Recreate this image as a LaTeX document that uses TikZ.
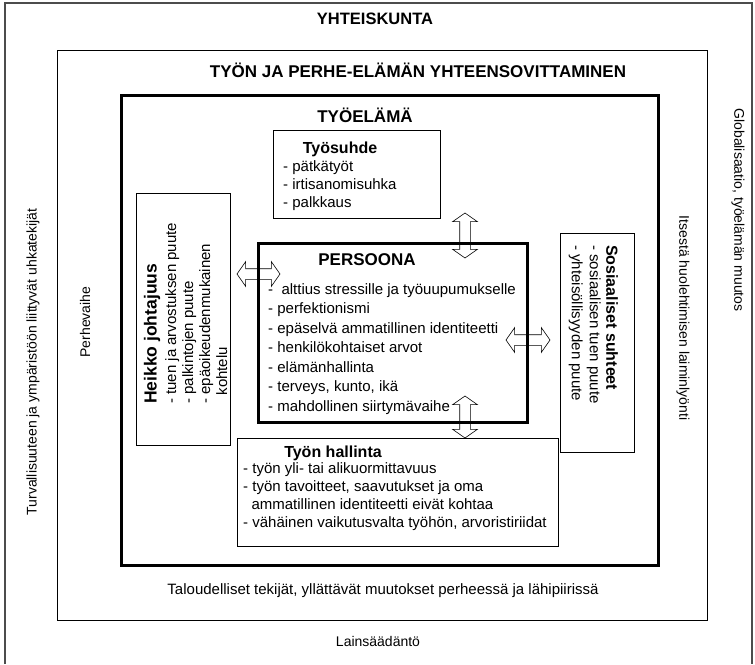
\documentclass[tikz,border=0pt]{standalone}
\usepackage{fontspec}
\setmainfont{Liberation Sans}
\usetikzlibrary{shapes.arrows}

\begin{document}
\begin{tikzpicture}[x=1pt,y=-1pt,
  laatikko/.style={draw,line width=0.8pt,inner sep=0pt},
  paksulaatikko/.style={draw,line width=3pt,inner sep=0pt},
  iso/.style={font=\fontsize{17}{20}\selectfont\bfseries},
  nimi/.style={font=\fontsize{16}{19}\selectfont\bfseries},
  lista/.style={font=\fontsize{15}{18}\selectfont,align=left,inner sep=0pt,anchor=north west},
  pieni/.style={font=\fontsize{14}{17}\selectfont,inner sep=0pt},
  nuoli/.style={double arrow,draw,line width=0.6pt,minimum width=24pt,inner xsep=0pt,inner ysep=5pt,double arrow tip angle=110}]
 \useasboundingbox (0,0) rectangle (755,664);
 \draw[line width=1.2pt,black!70] (5,664) -- (5,3) -- (752,3) -- (752,664);
 \draw (382,335) node[laatikko, minimum width=650pt, minimum height=570pt] (yhteensovitus) {};
 \draw (389.5,330) node[paksulaatikko, minimum width=537pt, minimum height=470pt] (tyoelama) {};
  \draw (356.5,174) node[laatikko, minimum width=167pt, minimum height=88pt] (tyosuhde) {};
  \draw (183,319) node[laatikko, minimum width=94pt, minimum height=252pt] (johtajuus) {};
  \draw (392.5,332.5) node[paksulaatikko, minimum width=269pt, minimum height=179pt] (persoona) {};
  \draw (597,342.5) node[laatikko, minimum width=74pt, minimum height=219pt] (suhteet) {};
  \draw (397.5,492) node[laatikko, minimum width=321pt, minimum height=108pt] (hallinta) {};

 \draw (375,19) node[font=\fontsize{16.5}{19}\selectfont\bfseries] (yhteiskunta) {YHTEISKUNTA};
 \draw (418,70) node[iso] (sovittaminen) {TYÖN JA PERHE-ELÄMÄN YHTEENSOVITTAMINEN};
 \draw (365,115) node[iso] (elama) {TYÖELÄMÄ};

  \draw (340,149) node[nimi] (suhdeotsikko) {Työsuhde};
  \draw (283,160) node[lista] (suhdelista) {- pätkätyöt\\- irtisanomisuhka\\- palkkaus};

  \draw (367,260) node[iso] (persoonaotsikko) {PERSOONA};
  \draw (268,283) node[lista,font=\fontsize{15}{19.5}\selectfont] (persoonalista) {-\ \ alttius stressille ja työuupumukselle\\- perfektionismi\\- epäselvä ammatillinen identiteetti\\- henkilökohtaiset arvot\\- elämänhallinta\\- terveys, kunto, ikä\\- mahdollinen siirtymävaihe};

  \draw (333,453) node[nimi] (hallintaotsikko) {Työn hallinta};
  \draw (243,462) node[lista] (hallintalista) {- työn yli- tai alikuormittavuus\\- työn tavoitteet, saavutukset ja oma\\\ \ ammatillinen identiteetti eivät kohtaa\\- vähäinen vaikutusvalta työhön, arvoristiriidat};

  \draw (152,404) node[font=\fontsize{17.5}{20}\selectfont\bfseries,rotate=90,anchor=west,inner sep=0pt] (johtajuusotsikko) {Heikko johtajuus};
  \draw (165,404) node[lista,rotate=90,font=\fontsize{15}{17}\selectfont] (johtajuuslista) {- tuen ja arvostuksen puute\\- palkintojen puute\\- epäoikeudenmukainen\\\ \ kohtelu};

  \draw (612,245) node[nimi,rotate=-90,anchor=west,inner sep=0pt] (suhteetotsikko) {Sosiaaliset suhteet};
  \draw (601,245) node[lista,rotate=-90] (suhteetlista) {- sosiaalisen tuen puute\\- yhteisöllisyyden puute};

 \draw (33,362) node[pieni,rotate=90] (turvallisuus) {Turvallisuuteen ja ympäristöön liittyvät uhkatekijät};
 \draw (85,322) node[pieni,rotate=90] (perhevaihe) {Perhevaihe};
 \draw (683,318) node[pieni,rotate=-90] (itsesta) {Itsestä huolehtimisen laiminlyönti};
 \draw (738,210) node[pieni,rotate=-90] (globalisaatio) {Globalisaatio, työelämän muutos};
 \draw (383,591) node[pieni,font=\fontsize{15}{17}\selectfont] (taloudelliset) {Taloudelliset tekijät, yllättävät muutokset perheessä ja lähipiirissä};
 \draw (378,641) node[pieni] (lainsaadanto) {Lainsäädäntö};

  \draw (465,235.5) node[nuoli,rotate=90,minimum height=45pt] (ylanuoli) {};
  \draw (465,417) node[nuoli,rotate=90,minimum height=42pt] (alanuoli) {};
  \draw (258.5,274) node[nuoli,minimum height=43pt] (vasennuoli) {};
  \draw (528,340) node[nuoli,minimum height=44pt] (oikeanuoli) {};
\end{tikzpicture}
\end{document}
